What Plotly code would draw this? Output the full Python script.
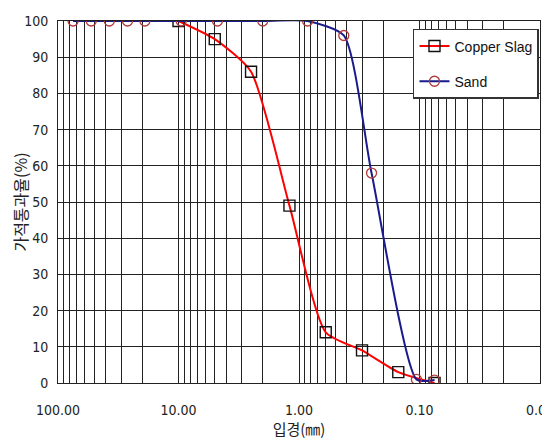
import plotly.graph_objects as go

# Data
slag_size = [10, 5, 2.5, 1.2, 0.6, 0.3, 0.15, 0.075]
slag_pass = [100, 95, 86, 49, 14, 9, 3, 0]

sand_size = [75, 53, 37.5, 26.5, 19, 9.5, 4.75, 2, 0.85, 0.425, 0.25, 0.106, 0.075]
sand_pass = [100, 100, 100, 100, 100, 100, 100, 100, 100, 96, 58, 1, 0.8]

x_major = [100, 10, 1, 0.1, 0.01]
x_major_text = ["100.00", "10.00", "1.00", "0.10", "0.01"]
y_ticks = [0, 10, 20, 30, 40, 50, 60, 70, 80, 90, 100]

# log grid positions (major + 2..9 minors)
x_tickvals, x_ticktext = [], []
for v, t in zip(x_major, x_major_text):
    x_tickvals.append(v)
    x_ticktext.append(t)
    if v > 0.01:
        for k in range(2, 10):
            x_tickvals.append(v / 10 * k)
            x_ticktext.append("")

tick_font = dict(family="Liberation Sans Narrow, Arial Narrow, DejaVu Sans Condensed, sans-serif",
                 size=14, color="#222")
kr_font_x = dict(family="Noto Sans CJK KR, sans-serif", size=15, color="#222")
kr_font_y = dict(family="Noto Sans CJK KR, sans-serif", size=16, color="#222")

fig = go.Figure()
fig.add_trace(go.Scatter(
    x=slag_size, y=slag_pass, name="Copper Slag", mode="lines+markers",
    line=dict(color="#ff0000", width=2, shape="spline", smoothing=0.6),
    marker=dict(symbol="square-open", size=11, color="#111", line=dict(width=1.4, color="#111")),
    legendgroup="a",
))
fig.add_trace(go.Scatter(
    x=sand_size, y=sand_pass, name="Sand", mode="lines+markers",
    line=dict(color="#1a1a8c", width=2, shape="spline", smoothing=0.6),
    marker=dict(symbol="circle-open", size=10, color="#b03a3a", line=dict(width=1.3, color="#b03a3a")),
    legendgroup="b",
))

# page body has an 8px default margin, so the figure is sized/offset to compensate
fig.update_layout(
    width=550, height=433,
    margin=dict(l=50, r=18, t=13, b=58),
    paper_bgcolor="white", plot_bgcolor="white",
    showlegend=True,
    legend=dict(
        x=0.7365, y=0.978, xanchor="left", yanchor="top",
        bgcolor="white", bordercolor="#333", borderwidth=1.5,
        font=dict(family="Liberation Sans, Arial, sans-serif", size=14, color="#111"),
        tracegroupgap=14, itemwidth=30,
    ),
    xaxis=dict(
        type="log", range=[2, -2], automargin=False,
        tickvals=x_tickvals, ticktext=x_ticktext,
        showgrid=True, gridcolor="#222", gridwidth=1,
        showline=True, linecolor="#222", linewidth=1, mirror=True,
        ticks="", tickfont=tick_font, ticklabelstandoff=14,
        zeroline=False,
        title=dict(text="입경(㎜)", font=kr_font_x, standoff=2),
    ),
    yaxis=dict(
        range=[0, 100], tickvals=y_ticks, automargin=False,
        showgrid=True, gridcolor="#222", gridwidth=1,
        showline=True, linecolor="#222", linewidth=1, mirror=True,
        ticks="", tickfont=tick_font, ticklabelstandoff=6,
        zeroline=False,
        title=dict(text="가적통과율(%)", font=kr_font_y, standoff=6),
    ),
)

fig.write_html("out.html")
